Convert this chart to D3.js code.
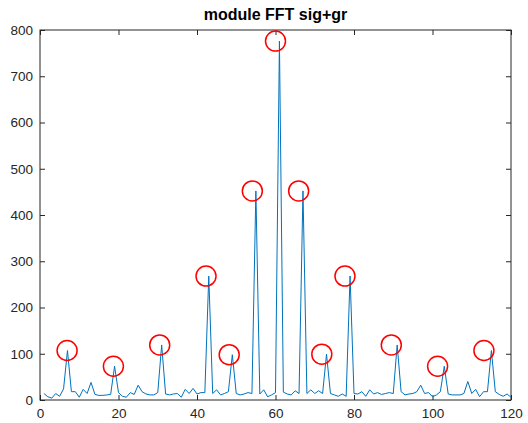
<!DOCTYPE html>
<html>
<head>
<meta charset="utf-8">
<script src="https://cdn.jsdelivr.net/npm/d3@7"></script>
<style>
  body { margin: 0; background: #fff; }
  text { font-family: "Liberation Sans", Arial, sans-serif; }
</style>
</head>
<body>
<script>
// |FFT| magnitude, samples 1..120
const magnitude = [
  14, 7, 4, 14, 8, 24, 107, 18, 18, 6,
  23, 14, 38, 12, 10, 10, 11, 12, 73, 16,
  8, 6, 16, 12, 32, 18, 13, 11, 11, 16,
  119, 13, 11, 13, 14, 6, 23, 14, 25, 13,
  16, 16, 268, 14, 22, 11, 14, 18, 98, 14,
  11, 13, 16, 14, 452, 13, 22, 7, 11, 16,
  776, 17, 13, 11, 20, 14, 452, 14, 22, 14,
  20, 14, 99, 14, 11, 8, 13, 8, 268, 14,
  13, 18, 8, 22, 13, 16, 12, 14, 16, 14,
  119, 18, 11, 13, 14, 18, 32, 14, 16, 7,
  11, 18, 73, 13, 11, 11, 11, 14, 40, 14,
  23, 7, 18, 18, 107, 18, 12, 8, 13, 6
];
// detected peaks: sample index (1-based) and where the marker sits on the x axis
const peakLocs = [7, 19, 31, 43, 49, 55, 61, 67, 73, 79, 91, 103, 115];
const peakX = [6.9, 18.7, 30.5, 42.3, 48.2, 54.1, 60.0, 65.9, 71.8, 77.7, 89.5, 101.3, 113.1];
const xTicks = [0, 20, 40, 60, 80, 100, 120];
const yTicks = [0, 100, 200, 300, 400, 500, 600, 700, 800];
const title = "module FFT sig+gr";

const width = 528, height = 423;
const margin = { top: 30, right: 17, bottom: 23, left: 40 };
const w = width - margin.left - margin.right;
const h = height - margin.top - margin.bottom;

const svg = d3.select("body").append("svg")
  .attr("width", width).attr("height", height);

const x = d3.scaleLinear().domain([0, 120]).range([0, w]);
const y = d3.scaleLinear().domain([0, 800]).range([h, 0]);

const g = svg.append("g").attr("transform", `translate(${margin.left},${margin.top})`);

const axisColor = "#262626";
const tickLen = 5;

// axes (ticks pointing inward like matlab)
const xAxis = g.append("g").attr("transform", `translate(0,${h})`)
  .call(d3.axisBottom(x).tickValues(xTicks).tickSizeInner(-tickLen).tickSizeOuter(0).tickPadding(8));
const yAxis = g.append("g")
  .call(d3.axisLeft(y).tickValues(yTicks).tickSizeInner(-tickLen).tickSizeOuter(0).tickPadding(7));
const xTop = g.append("g")
  .call(d3.axisTop(x).tickValues(xTicks).tickSizeInner(-tickLen).tickSizeOuter(0).tickFormat(""));
const yRight = g.append("g").attr("transform", `translate(${w},0)`)
  .call(d3.axisRight(y).tickValues(yTicks).tickSizeInner(-tickLen).tickSizeOuter(0).tickFormat(""));

[xAxis, yAxis, xTop, yRight].forEach(a => {
  a.select(".domain").remove();
  a.selectAll("line").attr("stroke", axisColor);
  a.selectAll("text").attr("fill", axisColor).style("font-size", "13.5px")
    .style("font-family", "'Liberation Sans', Arial, sans-serif");
});

// box
g.append("rect").attr("x", 0).attr("y", 0).attr("width", w).attr("height", h)
  .attr("fill", "none").attr("stroke", axisColor).attr("stroke-width", 1);

// spectrum line
const line = d3.line()
  .x((d, i) => x(i + 1))
  .y(d => y(d));
g.append("path").datum(magnitude)
  .attr("d", line)
  .attr("fill", "none")
  .attr("stroke", "#0072BD")
  .attr("stroke-width", 1);

// peak markers
g.selectAll("circle.peak").data(peakLocs).enter().append("circle")
  .attr("class", "peak")
  .attr("cx", (d, i) => x(peakX[i]))
  .attr("cy", d => y(magnitude[d - 1]))
  .attr("r", 10)
  .attr("fill", "none")
  .attr("stroke", "#FF0000")
  .attr("stroke-width", 1.5);

// title
svg.append("text")
  .attr("x", margin.left + w / 2)
  .attr("y", 20)
  .attr("text-anchor", "middle")
  .attr("fill", "#000")
  .style("font-size", "16px")
  .style("font-weight", "bold")
  .text(title);
</script>
</body>
</html>
